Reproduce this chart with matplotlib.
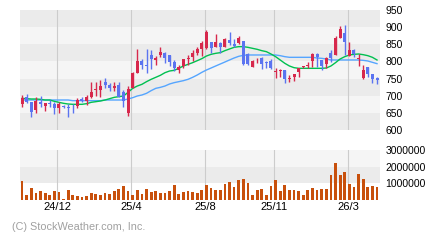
import matplotlib
matplotlib.use("Agg")
import matplotlib.pyplot as plt
import numpy as np

plt.rcParams['font.family'] = ['Liberation Sans', 'DejaVu Sans']

# weekly candles (open, high, low, close)
opens = [677, 695, 683, 659, 683, 670, 678, 677, 665, 670, 667, 662, 670, 690, 686, 696,
         717, 717, 740, 731, 723, 731, 711, 650, 723, 767, 801, 790, 819, 804, 819, 826,
         819, 798, 775, 787, 807, 812, 826, 836, 839, 857, 843, 855, 843, 862, 850, 853,
         860, 821, 785, 800, 811, 798, 801, 769, 772, 775, 748, 754, 770, 783, 786, 801,
         822, 804, 792, 824, 819, 869, 882, 817, 833, 807, 752, 785, 763, 752]
highs = [702, 705, 683, 695, 699, 679, 687, 683, 681, 674, 675, 676, 694, 697, 702, 740,
         740, 746, 751, 737, 740, 740, 717, 728, 769, 836, 807, 836, 833, 816, 842, 828,
         819, 804, 790, 806, 819, 833, 842, 860, 892, 857, 880, 857, 867, 885, 866, 874,
         861, 825, 804, 809, 814, 801, 806, 780, 779, 775, 759, 763, 780, 787, 799, 825,
         825, 804, 812, 834, 873, 902, 906, 857, 836, 821, 790, 785, 763, 755]
lows = [668, 680, 639, 650, 668, 656, 668, 648, 650, 665, 639, 650, 665, 681, 673, 694,
        699, 697, 722, 714, 714, 697, 668, 642, 722, 765, 778, 767, 778, 790, 813, 796,
        787, 772, 765, 782, 790, 801, 819, 816, 837, 826, 841, 824, 841, 848, 843, 851,
        790, 789, 784, 795, 778, 782, 778, 751, 756, 738, 740, 743, 755, 781, 780, 784,
        784, 775, 780, 799, 819, 869, 819, 817, 813, 788, 748, 755, 738, 735]
closes = [694, 683, 653, 685, 677, 679, 676, 665, 677, 668, 665, 660, 688, 686, 696, 711,
          720, 728, 731, 723, 728, 697, 685, 720, 767, 801, 790, 788, 807, 811, 828, 811,
          798, 782, 785, 806, 809, 826, 836, 854, 886, 839, 857, 843, 864, 855, 845, 869,
          792, 792, 801, 802, 792, 794, 780, 771, 774, 748, 750, 763, 780, 785, 788, 821,
          812, 788, 809, 809, 869, 894, 856, 833, 821, 809, 775, 763, 749, 746]
volumes = [1140000, 300000, 720000, 420000, 540000, 420000, 300000, 540000, 480000, 60000,
           600000, 300000, 240000, 180000, 240000, 420000, 360000, 300000, 420000, 360000,
           540000, 660000, 840000, 540000, 300000, 600000, 360000, 660000, 480000, 540000,
           420000, 420000, 540000, 900000, 360000, 480000, 540000, 480000, 420000, 600000,
           900000, 720000, 600000, 600000, 960000, 1080000, 780000, 1200000, 1260000, 1020000,
           300000, 600000, 660000, 300000, 840000, 1200000, 540000, 900000, 600000, 600000,
           540000, 300000, 600000, 720000, 600000, 660000, 660000, 1500000, 2220000, 1500000,
           1680000, 960000, 780000, 1560000, 1260000, 780000, 840000, 780000]
ma_short = [692.4, 691.4, 690.4, 690.4, 689.5, 687.5, 687.5, 683.6, 680.7, 677.8, 675.8, 674.9,
            674.9, 674.9, 676.8, 680.7, 682.6, 684.6, 687.5, 691.4, 695.3, 697.2, 699.2, 709.9,
            721.5, 728.3, 733.2, 741.0, 747.8, 753.6, 759.5, 767.2, 772.1, 774.0, 779.9, 786.7,
            791.5, 796.4, 802.2, 808.1, 815.8, 820.7, 823.6, 825.6, 831.4, 836.3, 841.1, 843.1,
            843.1, 841.1, 838.2, 835.3, 831.4, 828.5, 821.7, 813.9, 804.2, 794.5, 786.7, 781.8,
            779.9, 779.9, 779.9, 779.9, 779.9, 779.9, 780.8, 786.7, 796.4, 807.1, 813.9, 818.8,
            820.7, 821.7, 819.7, 816.8, 812.0, 804.2]
ma_long = [687.5, 687.5, 687.5, 687.5, 687.5, 687.5, 687.5, 687.5, 687.5, 687.5, 687.5, 685.6,
           685.6, 685.6, 685.6, 685.6, 685.6, 685.6, 687.5, 687.5, 687.5, 687.5, 687.5, 690.4,
           694.3, 699.2, 702.1, 707.0, 714.8, 721.5, 724.4, 728.3, 734.2, 738.1, 741.0, 743.9,
           747.8, 753.6, 760.4, 768.2, 775.0, 780.8, 786.7, 792.5, 798.3, 804.2, 810.0, 814.9,
           817.8, 818.8, 818.8, 818.8, 818.8, 818.8, 818.8, 818.8, 816.8, 813.9, 812.0, 812.0,
           812.0, 812.0, 812.0, 812.0, 810.0, 809.0, 807.1, 804.2, 804.2, 804.2, 804.2, 804.2,
           804.2, 804.2, 803.2, 801.3, 797.4, 793.5]
date_labels = ['24/12', '25/4', '25/8', '25/11', '26/3']
date_pos = [7.66, 23.71, 39.76, 54.73, 70.78]
price_ticks = [600, 650, 700, 750, 800, 850, 900, 950]
vol_ticks = [1000000, 2000000, 3000000]

UP = '#d7284c'
DOWN = '#5b74f0'
DARK = '#ebebeb'
LIGHT = '#f5f5f5'
GRID = '#cccccc'

x = np.arange(len(opens))
o = np.array(opens)
c = np.array(closes)
colors = [UP if cc >= oo else DOWN for oo, cc in zip(o, c)]

fig = plt.figure(figsize=(4.4, 2.4), dpi=100)
ax = fig.add_axes([20 / 440, 1 - 130 / 240, 360 / 440, 120 / 240])
axv = fig.add_axes([20 / 440, 1 - 200 / 240, 360 / 440, 50 / 240])

xlim = (-0.45, 77.65)

# price panel
for k, lo in enumerate(range(900, 550, -50)):
    ax.axhspan(lo, lo + 50, color=DARK if k % 2 == 0 else LIGHT, lw=0, zorder=0)
for p in date_pos:
    ax.axvline(p, color=GRID, lw=0.8, zorder=1)
ax.plot(x, ma_long, color='#55a5ff', lw=1, zorder=2)
ax.plot(x, ma_short, color='#00c050', lw=1, zorder=2)
ax.vlines(x, lows, highs, colors=colors, lw=1, zorder=3)
body = np.maximum(np.abs(c - o), 2.5)
ax.bar(x, body, bottom=np.minimum(o, c), width=0.65, color=colors, lw=0, zorder=4)
ax.set_xlim(*xlim)
ax.set_ylim(600, 950)
ax.set_xticks([])
ax.yaxis.tick_right()
ax.set_yticks(price_ticks)
ax.tick_params(axis='y', length=0, pad=4, labelsize=7.5)
for s in ax.spines.values():
    s.set_visible(False)

# volume panel
axv.axhspan(2000000, 3000000, color=LIGHT, lw=0, zorder=0)
axv.axhspan(1000000, 2000000, color=DARK, lw=0, zorder=0)
for p in date_pos:
    axv.axvline(p, color=GRID, lw=0.8, zorder=1)
axv.bar(x, volumes, width=0.6, color='#c8500c', lw=0, zorder=2)
axv.set_xlim(*xlim)
axv.set_ylim(0, 3000000)
axv.yaxis.tick_right()
axv.set_yticks(vol_ticks)
axv.set_yticklabels([str(v) for v in vol_ticks])
axv.set_xticks(date_pos)
axv.set_xticklabels(date_labels)
axv.tick_params(axis='y', length=0, pad=4, labelsize=7.5)
axv.tick_params(axis='x', length=0, pad=1.5, labelsize=8)
for s in axv.spines.values():
    s.set_visible(False)

fig.text(12 / 440, 1 - 227 / 240, '(C) StockWeather.com, Inc.', color='#a0a0a0',
         fontsize=7.8, va='center', ha='left')

fig.savefig('out.png', dpi=100)
